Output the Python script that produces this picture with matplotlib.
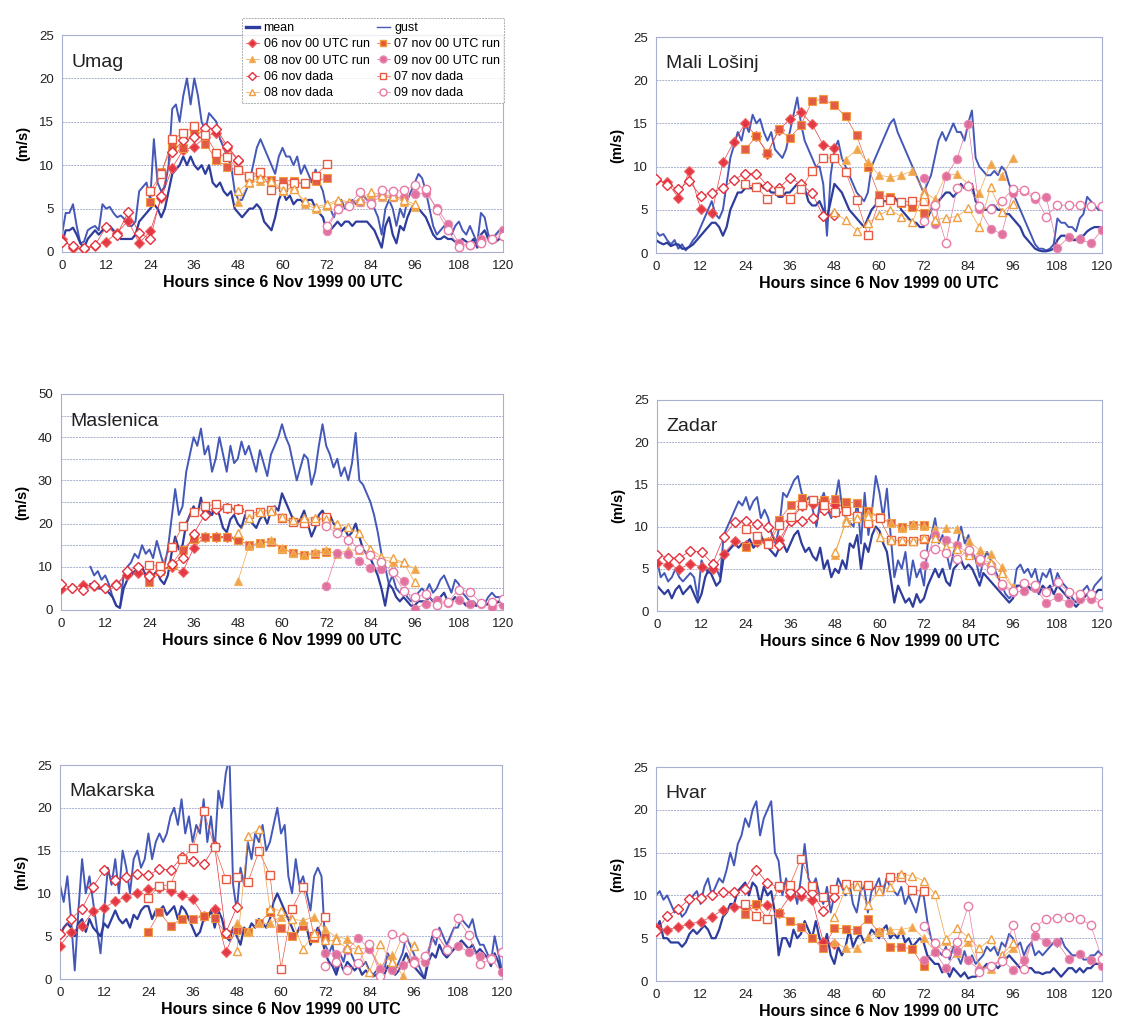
import numpy as np
import matplotlib
matplotlib.use("Agg")
import matplotlib.pyplot as plt
from matplotlib.lines import Line2D

plt.rcParams['font.family'] = ['Liberation Sans', 'DejaVu Sans']

nan = np.nan

# hours of observations and forecast lead times (every 3 h, 48 h per run)
hours = np.arange(121)
lead = np.arange(0, 49, 3)
run_start = [0, 24, 48, 72]

# ---------------- Umag ----------------
umag_gust = [2, 4.5, 4.5, 5.5, 3, 1, 1.2, 2.5, 2.8, 3,
             2.5, 5.5, 5, 5.2, 4.5, 4, 4.2, 3.8, 3, 3,
             3.5, 7, 7.5, 8, 6, 13, 8, 7, 7.5, 10,
             16.5, 17, 15, 18, 20, 17, 20, 18, 15, 14,
             16, 15.5, 15, 13, 12, 11, 10, 7, 6, 6,
             7, 8, 10, 12, 13, 12, 11, 10, 9, 11,
             12, 11, 11, 10, 11, 9, 10, 9, 8, 9.5,
             8, 7, 5, 5, 4, 5.5, 6, 5, 5.5, 6,
             5.5, 6, 6.5, 6, 6, 5, 4, 2, 5, 6,
             5, 3, 5, 4, 6, 7, 8, 9, 8.5, 7,
             5, 3, 2, 2.5, 3, 2.5, 2, 3, 3.5, 2.5,
             2, 3, 2, 1, 4.5, 4, 2, 1.5, 2, 2.5, 2.5]
umag_mean = [1, 2.5, 2.5, 2.8, 2, 1, 0.5, 1.5, 2, 2.5,
             2, 2.5, 3, 3, 2.5, 2, 1.5, 1.5, 1.5, 1.5,
             2, 3.5, 4, 4.5, 5, 5.5, 5, 4, 5, 7,
             9, 9.5, 10, 11, 10, 11, 10, 9.5, 10, 9,
             10, 8, 7.5, 8, 7, 6.5, 7, 5, 4.5, 4,
             4.5, 5, 5, 5.5, 5, 3.5, 3, 2.5, 4, 6,
             7, 6, 6.5, 5.5, 6, 6, 5.5, 6, 6, 5,
             4.5, 4, 2.5, 2.5, 3, 3.5, 3, 3.5, 3.5, 3,
             3.5, 3.5, 3.5, 3.5, 3, 2.5, 1.5, 0.5, 3, 4,
             2, 1, 3, 2.5, 4, 5, 5.5, 5, 4.5, 4,
             3, 2, 1.5, 1.5, 1.8, 1.5, 1.5, 1.2, 1.2, 1.5,
             1.2, 1, 1.5, 0.5, 2, 2.5, 1.5, 1, 1.2, 1.5, 1.5]
umag_r06 = [1.5, 0.5, 0.3, 0.7, 1.2, 2.2, 3.6, 1.0, 2.4, 6.2, 9.7, 11.8, 12.1, 13.3, 13.7, 12.0, 10.5]
umag_d06 = [1.2, 0.7, 0.5, 0.8, 2.9, 2.0, 4.6, 2.2, 1.5, 6.5, 11.5, 12.9, 13.2, 14.3, 14.2, 12.2, 10.6]
umag_r07 = [5.8, 9.2, 12.2, 12.0, 14.0, 12.5, 10.6, 9.8, 9.4, 8.5, 9.0, 8.3, 8.2, 8.2, 7.8, 8.2, 8.5]
umag_d07 = [7.0, 9.0, 13.0, 13.7, 14.5, 13.5, 11.4, 10.9, 9.5, 8.8, 9.2, 7.2, 7.5, 7.9, 7.9, 8.8, 10.1]
umag_r08 = [5.8, 8.0, 8.2, 8.0, 7.0, 7.5, 5.5, 5.0, 5.3, 5.8, 5.7, 5.8, 6.5, 6.3, 6.3, 5.8, 5.2]
umag_d08 = [7.0, 8.1, 8.5, 8.2, 7.2, 7.3, 5.9, 5.2, 5.5, 6.0, 5.8, 6.0, 6.9, 6.6, 6.5, 6.0, 5.5]
umag_r09 = [2.4, 5.0, 5.4, 5.8, 5.7, 6.4, 6.3, 6.3, 6.7, 6.8, 5.1, 3.2, 1.0, 0.8, 1.5, 1.5, 2.5]
umag_d09 = [3.0, 4.9, 5.3, 6.9, 5.5, 7.2, 7.0, 7.1, 7.7, 7.3, 4.8, 2.5, 0.6, 0.8, 1.0, 1.5, 1.9]

# ---------------- Mali Losinj ----------------
losinj_gust = [2.5, 2, 2.2, 1.5, 1, 1.5, 0.5, 1, 0.3, 0.8,
               1.5, 2, 3, 4, 5, 6, 4.5, 4, 5, 8,
               11, 12.5, 14, 13, 15, 14, 16, 15, 15.5, 14,
               13, 14, 12, 11.5, 11, 12, 14, 16, 18, 15,
               13, 12, 11, 10, 10, 8, 2, 9, 12, 13,
               11, 10, 9, 8, 7, 6.5, 6, 7, 10, 11,
               12, 13, 14, 15, 15.5, 14, 13, 12, 11, 10,
               9, 8, 7, 8, 9, 11, 13, 14, 13, 14,
               15, 14, 14, 13, 15, 16.5, 11, 10, 9.5, 9,
               9, 9.5, 9, 10, 9.5, 8, 7, 6, 5, 4,
               3, 2, 1, 0.5, 0.5, 0.3, 0.5, 1, 4, 3.5,
               3.5, 3, 3, 2.5, 4, 4.5, 6.5, 6, 5.5, 5, 5]
losinj_mean = [1.5, 1.2, 1, 1.2, 0.8, 1, 1, 0.5, 0.5, 0.7,
               1, 1.5, 2, 2.5, 3, 3.5, 3.5, 3, 2, 3,
               5, 6, 7, 7, 7.5, 7.5, 7.5, 8, 8, 7.5,
               7.5, 7, 7, 6.5, 6.5, 7, 7, 7.5, 8, 8,
               7.5, 6, 5.5, 5.5, 6, 5, 4, 6, 8, 7.5,
               7, 6, 5, 4.5, 4, 3.5, 3, 4, 5, 5.5,
               6, 6, 6, 6.5, 6.5, 6, 5, 4.5, 4, 3.5,
               3.5, 3, 3, 4, 5, 5.5, 6, 6.5, 7, 7,
               6.5, 7, 8, 7.5, 7.5, 8, 6, 5.5, 5, 5,
               5.5, 5.5, 5, 5, 4.5, 4.5, 4, 3.5, 3, 2,
               1.5, 1, 0.5, 0.3, 0.2, 0.2, 0.3, 0.5, 1.5, 2,
               2, 1.8, 1.5, 1.5, 2, 2, 2.5, 2.8, 3, 3, 3]
losinj_r06 = [8.4, 8.2, 6.4, 9.5, 5.1, 4.6, 10.5, 12.9, 15.0, 13.5, 11.5, 14.2, 15.5, 16.3, 14.9, 12.5, 12.2]
losinj_d06 = [8.6, 7.9, 7.4, 8.3, 6.6, 7.0, 7.5, 8.5, 9.2, 9.2, 7.8, 7.5, 8.7, 8.0, 6.9, 4.3, 4.4]
losinj_r07 = [12.0, 13.5, 11.6, 14.3, 13.3, 14.8, 17.6, 17.8, 17.1, 15.8, 13.6, 10.0, 6.7, 6.5, 5.8, 5.3, 4.6]
losinj_d07 = [8.0, 7.6, 6.3, 7.2, 6.3, 7.4, 9.5, 11.0, 11.0, 9.4, 6.1, 2.1, 5.9, 6.1, 5.9, 6.0, 6.0]
losinj_r08 = [11.0, 10.8, 12.0, 10.5, 9.0, 8.8, 9.0, 9.5, 7.2, 6.2, 9.0, 9.1, 8.0, 7.0, 10.3, 8.9, 11.0]
losinj_d08 = [4.7, 3.8, 2.6, 3.5, 4.4, 5.0, 4.2, 3.6, 6.8, 3.8, 4.1, 4.2, 5.2, 3.0, 7.6, 4.7, 5.7]
losinj_r09 = [8.7, 3.4, 8.9, 10.9, 14.9, 5.1, 2.8, 2.2, 7.0, 7.2, 6.2, 6.5, 0.6, 1.8, 1.6, 1.1, 2.7]
losinj_d09 = [3.7, 5.6, 1.2, 7.5, 7.8, 5.4, 5.1, 6.0, 7.4, 7.3, 6.6, 4.2, 5.6, 5.5, 5.5, 5.4, 5.4]

# ---------------- Maslenica ----------------
maslenica_gust = [nan, nan, nan, nan, nan, nan, nan, nan, 10, 8,
                  9, 7, 8, 6, 3, 1, 0.5, 8, 10, 11,
                  13, 12, 15, 13, 14, 12, 16, 13, 10, 14,
                  21, 28, 22, 24, 32, 36, 40, 38, 42, 36,
                  38, 32, 35, 40, 36, 32, 38, 34, 35, 39,
                  36, 38, 35, 32, 37, 34, 31, 36, 38, 40,
                  43, 40, 38, 34, 30, 33, 36, 35, 29, 32,
                  38, 43, 38, 36, 33, 35, 31, 33, 30, 34,
                  41, 30, 29, 27, 25, 22, 18, 13, 10, 6,
                  8, 5, 4, 5, 3, 2, 3, 4, 5, 4,
                  6, 4, 5, 7, 8, 6, 4, 7, 6, 4,
                  3, 2, 2, 1, 2, 1.5, 3, 4, 3, 3, 2]
maslenica_mean = [nan, nan, nan, nan, nan, nan, nan, nan, 6, 6,
                  5, 5, 5, 4, 3, 1, 0.5, 5, 7, 8,
                  9, 9, 10, 8, 9, 8, 9, 7, 6, 8,
                  13, 17, 14, 15, 20, 22, 24, 22, 26, 21,
                  23, 22, 24, 22, 19, 18, 21, 22, 20, 19,
                  22, 21, 20, 19, 21, 22, 20, 23, 24, 23,
                  27, 25, 23, 21, 20, 21, 23, 20, 17, 19,
                  22, 23, 21, 22, 20, 19, 18, 19, 17, 18,
                  20, 17, 14, 13, 12, 10, 8, 5, 1, 6,
                  5, 3, 2, 3, 2, 1, 1, 2, 2, 2,
                  3, 2, 2, 3, 4, 2, 2, 3, 2, 2,
                  1, 1, 1, 1, 1.5, 1, 1.5, 2, 1.5, 2, 1.5]
maslenica_r06 = [4.8, 5.0, 5.8, 5.5, 5.0, 6.0, 8.0, 8.5, 8.0, 9.0, 10.0, 8.8, 14.3, 17.0, 17.0, 17.0, 16.5]
maslenica_d06 = [6.0, 5.1, 4.7, 5.9, 5.0, 5.7, 9.0, 10.0, 7.9, 8.8, 10.6, 12.0, 17.6, 22.0, 23.3, 23.6, 23.4]
maslenica_r07 = [6.4, 9.0, 10.5, 14.0, 16.5, 16.8, 17.0, 16.8, 16.3, 15.0, 15.5, 15.8, 14.2, 13.2, 12.8, 13.0, 13.5]
maslenica_d07 = [10.4, 10.3, 14.5, 19.4, 22.8, 24.0, 24.5, 23.6, 23.4, 22.3, 22.8, 23.1, 21.3, 20.3, 20.1, 20.5, 21.6]
maslenica_r08 = [6.6, 14.8, 15.5, 16.2, 14.3, 13.3, 12.8, 13.5, 13.8, 13.0, 13.9, 13.8, 13.0, 12.0, 11.0, 11.1, 9.5]
maslenica_d08 = [17.8, 21.2, 22.8, 23.0, 21.5, 20.8, 21.3, 21.3, 21.1, 20.0, 19.1, 17.8, 14.2, 12.3, 12.0, 11.0, 6.5]
maslenica_r09 = [5.6, 13.3, 13.0, 11.4, 9.8, 9.6, 8.7, 6.8, 0.3, 1.4, 2.2, 1.6, 2.3, 1.3, 1.5, 0.7, 1.2]
maslenica_d09 = [19.5, 17.8, 16.3, 14.2, 12.7, 11.0, 8.8, 4.4, 2.9, 3.8, 1.2, 1.9, 4.7, 4.2, 1.6, 1.8, 2.5]

# ---------------- Zadar ----------------
zadar_gust = [6, 4, 4.5, 3.5, 4, 5, 4, 3.5, 4, 4.5,
              4, 1.5, 6, 5, 4.5, 6, 5, 4, 9, 10,
              11, 12, 13, 12.5, 13.5, 12, 13, 13.5, 11, 12,
              11, 9, 8, 10, 14, 13.5, 14.5, 15.5, 16, 14,
              13, 13.5, 12, 10, 13, 14, 12, 11, 13, 15.5,
              12, 11, 10.5, 10, 13, 8, 14, 9, 12, 16,
              14, 11, 14.5, 9, 4, 6, 5, 7, 3, 6,
              4, 5, 3, 8, 9, 11, 8, 9, 7, 5,
              7, 8, 10, 8, 9, 7, 6, 4, 6, 7,
              6, 5, 4, 3, 2, 1.5, 2, 5, 5.5, 4.5,
              5, 4, 5, 3, 4.5, 4, 5, 3, 4.5, 3.5,
              3, 2.5, 1.5, 1, 2, 2.5, 3, 2, 3, 3.5, 4]
zadar_mean = [3, 2.5, 2, 2.5, 1.5, 2.5, 3, 2, 2.5, 3,
              2, 1, 2, 4, 5, 4, 3, 3.5, 6.5, 7,
              7.5, 8, 7.5, 8, 8, 8.5, 7.5, 8, 9, 8,
              7.5, 7, 6.5, 7.5, 8, 7, 8, 9, 9.5, 8,
              7, 7.5, 6.5, 6, 7.5, 5, 6, 4, 5, 4.5,
              6, 5, 8, 7.5, 9, 5, 8, 7, 9, 10,
              9.5, 8, 7, 4, 1, 3, 2, 1, 1.5, 0.5,
              2, 1, 1.5, 3, 4, 5, 4, 5, 3.5, 3,
              5, 5.5, 6, 5, 5.5, 5, 4, 3, 4.5, 4,
              3.5, 3, 2.5, 2, 1.5, 1, 1.5, 3, 3, 2.5,
              3, 2.5, 3, 2, 3, 2.5, 3, 2, 3, 2.5,
              2, 1.5, 1, 0.5, 1, 1.5, 2, 1.5, 2, 2.5, 2.5]
zadar_r06 = [5.7, 5.5, 5.0, 5.6, 5.2, 5.0, 6.8, 8.3, 7.8, 8.2, 8.2, 8.4, 10.7, 12.4, 12.7, 13.0, 12.5]
zadar_d06 = [6.6, 6.3, 6.3, 7.1, 7.0, 5.6, 8.8, 10.6, 10.7, 10.3, 9.9, 7.8, 10.7, 10.7, 11.0, 12.0, 11.7]
zadar_r07 = [7.6, 8.4, 8.2, 10.8, 12.5, 13.4, 13.2, 13.2, 13.3, 12.9, 12.8, 11.9, 11.1, 10.4, 10.0, 10.2, 10.2]
zadar_d07 = [9.7, 8.9, 7.9, 10.2, 11.1, 12.5, 13.1, 12.5, 11.7, 11.8, 11.2, 10.4, 11.0, 8.4, 8.3, 8.3, 8.5]
zadar_r08 = [6.6, 10.9, 11.1, 11.6, 11.1, 10.4, 9.8, 10.3, 10.1, 9.7, 9.8, 9.7, 8.3, 7.2, 6.8, 5.2, 2.8]
zadar_d08 = [7.0, 10.5, 11.0, 11.3, 8.8, 8.4, 8.4, 8.3, 8.7, 8.6, 7.6, 7.4, 6.6, 6.2, 5.7, 4.5, 2.7]
zadar_r09 = [5.4, 9.0, 8.4, 7.8, 6.8, 5.8, 5.5, 3.0, 2.2, 2.4, 2.7, 1.0, 1.6, 1.0, 1.4, 1.4, 0.8]
zadar_d09 = [6.8, 7.4, 6.9, 6.2, 7.2, 6.2, 4.9, 3.2, 2.4, 3.3, 3.1, 2.3, 3.4, 2.3, 2.0, 2.0, 1.0]

# ---------------- Makarska ----------------
makarska_gust = [11, 9, 12, 7, 1, 8, 14, 10, 12, 9,
                 6, 3, 8, 13, 11, 14, 10, 15, 13, 10,
                 14, 15, 13, 14, 17, 14, 16, 17, 16, 17,
                 19, 20, 18, 21, 17, 19, 16, 18, 17, 21,
                 16, 19, 15, 22, 20, 24, 26, 11, 8, 13,
                 11, 16, 14, 17, 16, 18, 15, 16, 18, 20,
                 17, 18, 12, 10, 14, 11, 12, 10, 8, 12,
                 13, 12, 4, 3, 4, 1, 3, 2, 4, 3,
                 2, 2, 1.5, 2, 1, 0.5, 1, 1.5, 1, 3,
                 2, 1, 2, 3, 5, 4, 3, 2, 1, 0,
                 3, 5, 4, 6, 5, 4, 5, 6, 6, 7,
                 6.5, 6, 7, 5, 4, 4, 3, 2, 5, 3, 1]
makarska_mean = [5, 6, 6.5, 6, 5, 6.5, 7, 5.5, 7, 6,
                 5.5, 5, 6.5, 6, 7, 8, 7, 6.5, 7, 6,
                 7.5, 7, 8, 8.5, 8.5, 7, 8, 8, 8.5, 7.5,
                 8, 8.5, 7, 8.5, 8, 7, 6, 5, 5.5, 7,
                 7, 8, 6, 8, 7, 5, 4.5, 6, 5, 4,
                 6, 5.5, 6.5, 6, 7, 6.5, 6, 7, 9, 10,
                 9, 8, 7, 6, 5, 6, 7, 6, 4, 5,
                 6, 5, 3, 2, 1.5, 0.5, 2, 1, 2, 1.5,
                 1, 1.5, 0.5, 1, 0.5, 0.3, 0.5, 1, 0.5, 1.5,
                 1, 0.5, 1, 2, 3, 2, 1.5, 1, 0.5, 0,
                 2, 3, 2.5, 4, 3, 2.5, 3, 3.5, 4, 4.5,
                 4, 3.5, 4, 3, 3.5, 3, 2.5, 1.5, 3, 2, 0.5]
makarska_r06 = [3.9, 5.5, 6.2, 7.9, 8.3, 9.1, 9.6, 10.1, 10.5, 10.6, 10.3, 9.8, 9.3, 7.4, 8.2, 3.2, 5.9]
makarska_d06 = [5.3, 7.0, 8.2, 10.8, 12.7, 11.6, 11.9, 12.3, 12.1, 12.9, 12.7, 14.2, 13.8, 13.4, 15.5, 5.4, 8.4]
makarska_r07 = [5.5, 7.8, 6.2, 7.0, 7.0, 7.4, 7.1, 5.3, 5.7, 5.5, 6.5, 7.8, 5.9, 5.0, 6.2, 4.8, 4.9]
makarska_d07 = [9.5, 10.9, 11.0, 14.0, 15.3, 19.6, 15.4, 11.7, 11.9, 11.3, 14.9, 12.2, 1.2, 8.2, 10.8, 5.0, 7.3]
makarska_r08 = [6.6, 5.5, 6.5, 6.5, 7.3, 7.0, 6.8, 7.3, 5.8, 4.9, 4.7, 3.5, 3.7, 1.4, 2.8, 0.3, 4.0]
makarska_d08 = [3.3, 16.7, 17.5, 8.2, 8.0, 7.0, 3.5, 5.4, 4.5, 4.5, 3.6, 3.5, 0.8, 4.1, 2.0, 5.0, 3.9]
makarska_r09 = [3.0, 2.9, 3.4, 4.8, 3.5, 1.2, 1.0, 1.6, 2.2, 2.0, 5.4, 3.5, 3.8, 3.2, 2.7, 2.4, 0.8]
makarska_d09 = [1.5, 2.0, 1.0, 1.9, 4.1, 0.4, 5.2, 4.8, 1.9, 2.7, 5.4, 3.4, 7.1, 5.1, 1.8, 2.3, 3.2]

# ---------------- Hvar ----------------
hvar_gust = [10, 10.5, 9.5, 10, 9, 8, 8.5, 7.5, 8, 9,
             10, 10.5, 9, 11, 12, 10, 11, 12, 11.5, 13,
             15, 13.5, 16, 17, 19, 18, 20, 21, 17, 19,
             20, 21, 15, 14, 10, 12, 10, 11, 9, 12,
             16, 12, 11, 12, 10, 9, 11, 8, 10, 12,
             11, 10, 11.5, 9, 8, 10.5, 11, 8, 10.5, 11,
             12, 10, 12, 11, 10.5, 10, 11, 9, 10, 9,
             8, 10, 10, 7, 5, 4, 3.5, 3, 4, 2.5,
             4, 3, 2, 3.5, 2, 3, 2, 2.5, 3, 4,
             3.5, 4, 3, 4.5, 4, 5.5, 5, 4, 4.5, 3,
             4, 4.5, 3, 3.5, 3, 3.5, 4, 4.5, 4, 5,
             4, 3.5, 3, 3, 3.5, 2.5, 2.5, 3, 3, 3.5, 3]
hvar_mean = [6, 7, 5, 5, 4.5, 4.5, 4.5, 4, 4.5, 5.5,
             6, 5.5, 6, 6.5, 6, 5, 5, 6, 7.5, 8,
             9, 9, 10.5, 11, 11.5, 10, 11.5, 11, 9, 11,
             10, 10.5, 8, 3, 5, 5, 4, 6, 5, 5.5,
             7, 6, 5, 7, 5, 4, 5.5, 3, 2, 4,
             3, 4, 6, 4, 5, 5.5, 4.5, 5, 6, 5.5,
             5, 6, 6.5, 5, 5.5, 5, 6, 4.5, 5, 4,
             4.5, 5, 4.5, 3, 2.5, 2, 2, 1, 1.5, 0.5,
             1.5, 1, 0.5, 1, 0.3, 0.5, 0.5, 0.8, 1.5, 2,
             1.5, 2, 1.5, 2, 2.5, 3, 2.5, 2, 1.5, 1,
             1.5, 1.5, 1, 1, 0.8, 1, 1, 1.5, 1, 0.5,
             1, 1.5, 1.5, 1, 1.5, 1, 1.5, 1.5, 2, 2, 1.5]
hvar_r06 = [6.2, 6.0, 6.3, 6.7, 6.9, 7.5, 8.3, 8.7, 8.7, 8.9, 8.9, 8.0, 9.9, 9.9, 9.5, 4.6, 4.3]
hvar_d06 = [5.8, 7.6, 8.4, 9.6, 9.7, 10.1, 10.4, 10.4, 10.8, 13.0, 11.4, 11.0, 10.4, 10.5, 10.3, 8.2, 9.8]
hvar_r07 = [7.8, 9.0, 7.3, 8.0, 7.0, 6.3, 5.0, 3.8, 6.2, 6.1, 6.0, 7.2, 5.7, 4.0, 4.0, 3.7, 1.7]
hvar_d07 = [9.0, 7.6, 7.2, 11.1, 11.2, 14.3, 11.1, 9.8, 10.8, 11.3, 11.2, 11.2, 10.6, 12.1, 12.1, 10.6, 10.5]
hvar_r08 = [4.6, 3.8, 3.8, 5.1, 5.8, 6.0, 6.0, 6.3, 5.0, 3.5, 4.7, 3.3, 4.6, 1.8, 1.4, 2.6, 3.9]
hvar_d08 = [7.5, 10.8, 11.1, 8.9, 10.5, 11.0, 12.5, 12.3, 11.7, 10.2, 4.9, 6.2, 5.1, 3.8, 4.9, 3.0, 4.4]
hvar_r09 = [2.4, 3.4, 1.5, 3.5, 2.4, 1.3, 1.8, 2.5, 1.3, 2.5, 5.3, 4.5, 4.5, 2.6, 3.1, 2.5, 1.8]
hvar_d09 = [6.4, 4.4, 3.3, 4.6, 8.8, 1.0, 1.8, 2.3, 6.5, 1.4, 6.3, 7.3, 7.4, 7.5, 7.3, 6.5, 2.6]

# panel layout: name, data, y max, y tick step, pixel box (left, right, top, bottom)
W, H = 1142, 1032
stations = [
    ("Umag", umag_mean, umag_gust, [umag_r06, umag_r07, umag_r08, umag_r09],
     [umag_d06, umag_d07, umag_d08, umag_d09], 25, 5, (62, 503, 35, 252)),
    ("Mali Lošinj", losinj_mean, losinj_gust, [losinj_r06, losinj_r07, losinj_r08, losinj_r09],
     [losinj_d06, losinj_d07, losinj_d08, losinj_d09], 25, 5, (656, 1102, 37, 253)),
    ("Maslenica", maslenica_mean, maslenica_gust,
     [maslenica_r06, maslenica_r07, maslenica_r08, maslenica_r09],
     [maslenica_d06, maslenica_d07, maslenica_d08, maslenica_d09], 50, 10, (61, 503, 394, 610)),
    ("Zadar", zadar_mean, zadar_gust, [zadar_r06, zadar_r07, zadar_r08, zadar_r09],
     [zadar_d06, zadar_d07, zadar_d08, zadar_d09], 25, 5, (657, 1102, 400, 611)),
    ("Makarska", makarska_mean, makarska_gust, [makarska_r06, makarska_r07, makarska_r08, makarska_r09],
     [makarska_d06, makarska_d07, makarska_d08, makarska_d09], 25, 5, (60, 502, 765, 979)),
    ("Hvar", hvar_mean, hvar_gust, [hvar_r06, hvar_r07, hvar_r08, hvar_r09],
     [hvar_d06, hvar_d07, hvar_d08, hvar_d09], 25, 5, (656, 1102, 767, 981)),
]

mean_col = '#2e3d9c'
gust_col = '#4458b8'
run_labels = ['06 nov 00 UTC run', '07 nov 00 UTC run', '08 nov 00 UTC run', '09 nov 00 UTC run']
dada_labels = ['06 nov dada', '07 nov dada', '08 nov dada', '09 nov dada']
markers = ['D', 's', '^', 'o']
run_face = ['#e4303c', '#e2553e', '#f0a040', '#e06c9c']
run_edge = ['#f06060', '#f39a3c', '#f3b060', '#ea8ab0']
dada_edge = ['#e4303c', '#e85a40', '#f0a040', '#e87aa5']
msizes = [5, 6, 6, 6]

fig = plt.figure(figsize=(W / 100, H / 100), dpi=100)

for name, mean, gust, runs, dadas, ymax, ystep, box in stations:
    l, r, t, b = box
    ax = fig.add_axes([l / W, 1 - b / H, (r - l) / W, (b - t) / H])
    ax.plot(hours, gust, color=gust_col, lw=1.4, zorder=2)
    ax.plot(hours, mean, color=mean_col, lw=1.6, zorder=2)
    for i in range(4):
        x = run_start[i] + lead
        ax.plot(x, runs[i], marker=markers[i], ms=msizes[i], color=run_face[i],
                mfc=run_face[i], mec=run_edge[i], mew=0.8, lw=0.5, alpha=0.95, zorder=3)
        ax.plot(x, dadas[i], marker=markers[i], ms=msizes[i], color=dada_edge[i],
                mfc='white', mec=dada_edge[i], mew=1.0, lw=0.5, zorder=4)
    ax.set_xlim(0, 120)
    ax.set_ylim(0, ymax)
    ax.set_xticks(np.arange(0, 121, 12))
    ax.set_yticks(np.arange(0, ymax + 1, ystep))
    ax.set_yticks(np.arange(0, ymax + 1, 5), minor=True)
    ax.grid(True, axis='y', which='both', color='#a8b0d0', lw=0.7, ls=(0, (2, 1)))
    ax.set_axisbelow(True)
    for s in ax.spines.values():
        s.set_color('#a8b0d0')
        s.set_linewidth(0.8)
    ax.tick_params(axis='both', which='both', length=0, labelsize=9.5, colors='#222222', pad=6)
    ax.set_xlabel('Hours since 6 Nov 1999 00 UTC', fontsize=11.5, fontweight='bold', labelpad=2)
    ax.set_ylabel('(m/s)', fontsize=10.5, fontweight='bold', labelpad=6)
    ax.text(0.022, 0.875, name, transform=ax.transAxes, fontsize=14, va='center', ha='left',
            color='#222222')

# legend above the Umag panel
handles = [Line2D([], [], color=mean_col, lw=2.4)]
labels = ['mean']
for i in [0, 2]:
    handles.append(Line2D([], [], color=run_face[i], marker=markers[i], ms=msizes[i] - 1,
                          mfc=run_face[i], mec=run_edge[i], lw=0.5))
    labels.append(run_labels[i])
for i in [0, 2]:
    handles.append(Line2D([], [], color=dada_edge[i], marker=markers[i], ms=msizes[i] - 1,
                          mfc='white', mec=dada_edge[i], lw=0.5))
    labels.append(dada_labels[i])
handles.append(Line2D([], [], color=gust_col, lw=1.0))
labels.append('gust')
for i in [1, 3]:
    handles.append(Line2D([], [], color=run_face[i], marker=markers[i], ms=msizes[i] - 1,
                          mfc=run_face[i], mec=run_edge[i], lw=0.5))
    labels.append(run_labels[i])
for i in [1, 3]:
    handles.append(Line2D([], [], color=dada_edge[i], marker=markers[i], ms=msizes[i] - 1,
                          mfc='white', mec=dada_edge[i], lw=0.5))
    labels.append(dada_labels[i])

leg = fig.legend(handles, labels, loc='upper left', bbox_to_anchor=(236 / W, 1 - 12 / H),
                 ncol=2, fontsize=9, frameon=True, fancybox=False, handlelength=1.0,
                 handletextpad=0.4, columnspacing=0.6, labelspacing=0.35, borderpad=0.3)
leg.get_frame().set_edgecolor('#999999')
leg.get_frame().set_linewidth(0.7)
leg.get_frame().set_linestyle((0, (2, 1)))
leg.set_zorder(10)

fig.savefig('out.png', dpi=100)
